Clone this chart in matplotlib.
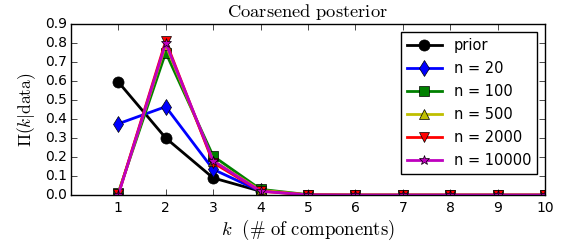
import matplotlib
matplotlib.use("Agg")
import matplotlib.pyplot as plt

plt.style.use("classic")

# --- data ---
k_short = [1, 2, 3, 4]
k_all = [1, 2, 3, 4, 5, 6, 7, 8, 9, 10]

prior = [0.595, 0.30, 0.09, 0.02]
n20 = [0.375, 0.465, 0.135, 0.02]
n100 = [0.012, 0.75, 0.205, 0.03, 0.002, 0.0, 0.0, 0.0, 0.0, 0.0]
n500 = [0.006, 0.79, 0.18, 0.025, 0.001, 0.0, 0.0, 0.0, 0.0, 0.0]
n2000 = [0.003, 0.81, 0.17, 0.02, 0.001, 0.0, 0.0, 0.0, 0.0, 0.0]
n10000 = [0.001, 0.80, 0.18, 0.02, 0.001, 0.0, 0.0, 0.0, 0.0, 0.0]

labels = ["prior", "n = 20", "n = 100", "n = 500", "n = 2000", "n = 10000"]

fig = plt.figure(figsize=(5.86, 2.45), dpi=100, facecolor="white")
ax = fig.add_axes([0.121, 0.204, 0.809, 0.698])

ax.plot(k_short, prior, "ko-", lw=2, ms=8, label=labels[0])
ax.plot(k_short, n20, "bd-", lw=2, ms=8, label=labels[1])
ax.plot(k_all, n100, "gs-", lw=2, ms=7, label=labels[2])
ax.plot(k_all, n500, "y^-", lw=2, ms=7, label=labels[3])
ax.plot(k_all, n2000, "rv-", lw=2, ms=7, label=labels[4])
ax.plot(k_all, n10000, "m*-", lw=2, ms=7, label=labels[5])

ax.set_xlim(0, 10)
ax.set_ylim(0, 0.9)
ax.set_xticks(k_all)
ax.set_yticks([0.0, 0.1, 0.2, 0.3, 0.4, 0.5, 0.6, 0.7, 0.8, 0.9])
ax.tick_params(labelsize=10)
ax.tick_params(axis="y", pad=3)

ax.set_title(r"$\mathrm{Coarsened\ posterior}$", fontsize=13.3)
ax.set_xlabel(r"$k\ \ (\#\ \mathrm{of\ components})$", fontsize=13.5, labelpad=2)
ax.set_ylabel(r"$\Pi(k|\mathrm{data})$", fontsize=12.5, labelpad=5)

ax.legend(loc="upper right", numpoints=1, fontsize=10.5, labelspacing=0.55,
          handlelength=2.4, borderaxespad=0.55)

fig.savefig("out.png", dpi=100, facecolor="white")
